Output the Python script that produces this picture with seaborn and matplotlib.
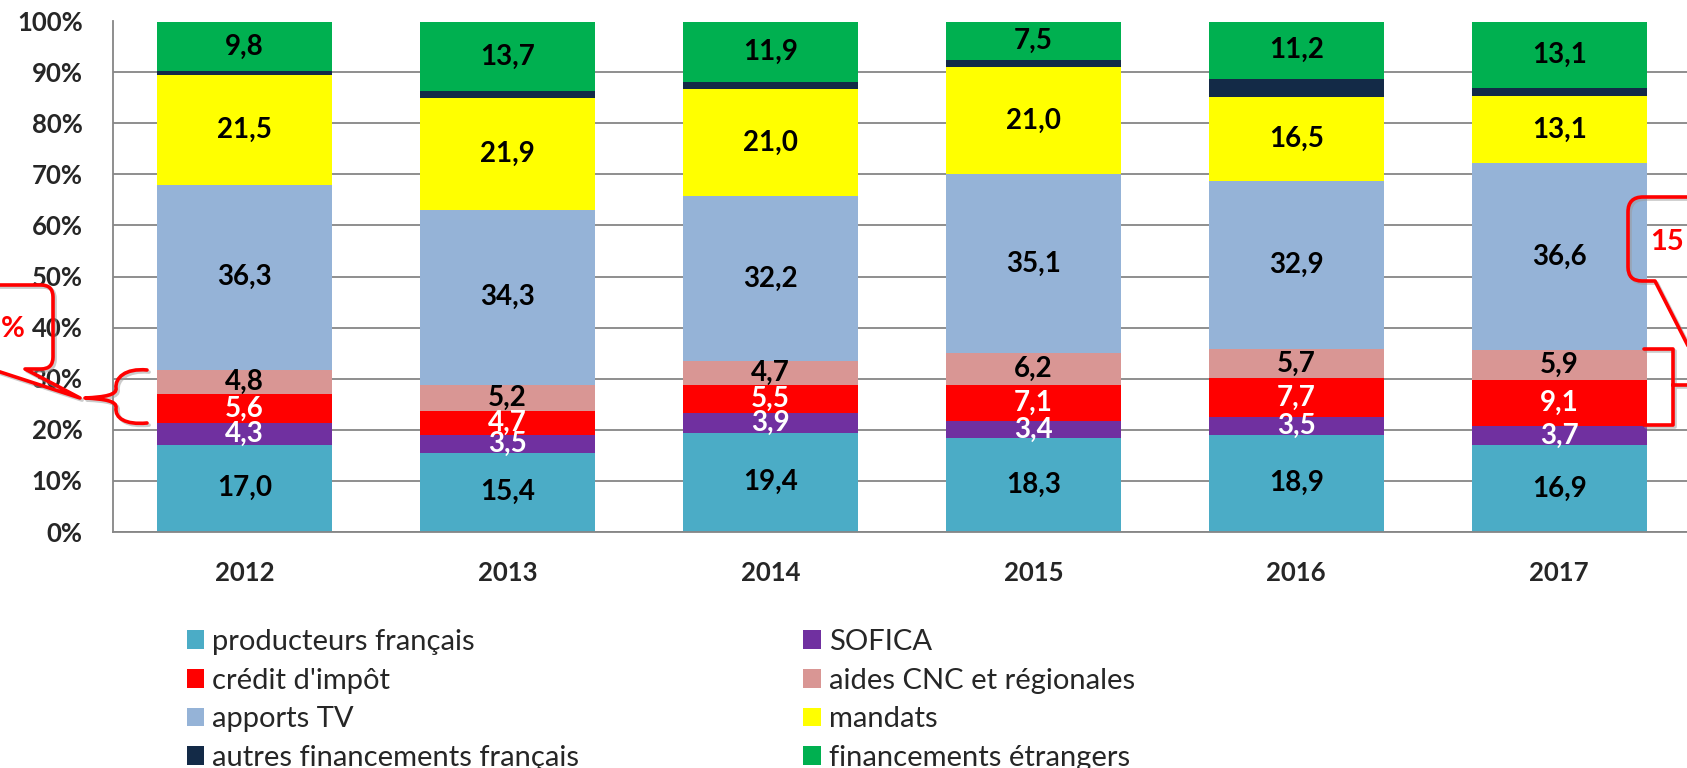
import numpy as np
import pandas as pd
import matplotlib
matplotlib.use("Agg")
import matplotlib.pyplot as plt
import seaborn as sns
from matplotlib.path import Path
from matplotlib.patches import PathPatch, Patch
import matplotlib.patheffects as pe

# ---------------- data ----------------
years = ["2012", "2013", "2014", "2015", "2016", "2017"]
producteurs = [17.0, 15.4, 19.4, 18.3, 18.9, 16.9]
sofica = [4.3, 3.5, 3.9, 3.4, 3.5, 3.7]
credit = [5.6, 4.7, 5.5, 7.1, 7.7, 9.1]
aides = [4.8, 5.2, 4.7, 6.2, 5.7, 5.9]
apports_tv = [36.3, 34.3, 32.2, 35.1, 32.9, 36.6]
mandats = [21.5, 21.9, 21.0, 21.0, 16.5, 13.1]
autres = [0.7, 1.3, 1.4, 1.4, 3.6, 1.6]
etrangers = [9.8, 13.7, 11.9, 7.5, 11.2, 13.1]

series_names = ["producteurs français", "SOFICA", "crédit d'impôt",
                "aides CNC et régionales", "apports TV", "mandats",
                "autres financements français", "financements étrangers"]
series_values = [producteurs, sofica, credit, aides, apports_tv, mandats,
                 autres, etrangers]
colors = ["#4BACC6", "#7030A0", "#FF0000", "#D99694", "#95B3D7", "#FFFF00",
          "#132A47", "#00B050"]
label_colors = ["black", "white", "white", "black", "black", "black", None, "black"]

yticks = [0, 10, 20, 30, 40, 50, 60, 70, 80, 90, 100]
ytick_labels = [f"{t}%" for t in yticks]

callout_left_text = "%"
callout_right_text = "15"

# ---------------- style ----------------
sns.set_style("white")
plt.rcParams["font.family"] = ["Lato", "DejaVu Sans"]

W, H = 1687, 768
fig = plt.figure(figsize=(W / 100, H / 100), dpi=100)
ax = fig.add_axes([113.2 / W, 1 - 531.5 / H, 1577.4 / W, 510 / H])


def fmt(v):
    return f"{v:.1f}".replace(".", ",")


bottom = np.zeros(len(years))
for name, vals, col, lc in zip(series_names, series_values, colors, label_colors):
    df = pd.DataFrame({"year": years, "value": vals})
    sns.barplot(data=df, x="year", y="value", order=years, color=col,
                saturation=1, width=0.665, errorbar=None, bottom=bottom.copy(),
                linewidth=0, ax=ax, zorder=2)
    if lc is not None:
        for i, v in enumerate(vals):
            ax.text(i, bottom[i] + v / 2, fmt(v), ha="center", va="center",
                    fontsize=20, fontweight="bold", color=lc, zorder=5)
    bottom += np.array(vals)

ax.set_xlim(-0.5, len(years) - 0.5)
ax.set_ylim(0, 100)
ax.set_yticks(yticks, ytick_labels)
ax.set_xlabel("")
ax.set_ylabel("")
ax.yaxis.grid(True, color="#868686", linewidth=1.3)
ax.xaxis.grid(False)
ax.set_axisbelow(True)
ax.tick_params(axis="y", length=0, pad=22, labelsize=18.5)
ax.tick_params(axis="x", length=0, pad=21, labelsize=18.5)
for lab in ax.get_xticklabels() + ax.get_yticklabels():
    lab.set_fontweight("bold")
for s in ["top", "right"]:
    ax.spines[s].set_visible(False)
for s in ["left", "bottom"]:
    ax.spines[s].set_color("#868686")
    ax.spines[s].set_linewidth(1.3)

# ---------------- legend ----------------
handles = [Patch(facecolor=c, edgecolor="none") for c in colors]
col1 = [0, 2, 4, 6]
col2 = [1, 3, 5, 7]
for idx, x0 in ((col1, 186.7), (col2, 803)):
    fig.legend([handles[i] for i in idx], [series_names[i] for i in idx],
               loc="upper left", bbox_to_anchor=(x0 / W, 1 - 629 / H),
               frameon=False, fontsize=21, handlelength=0.6, handleheight=0.6,
               handletextpad=0.28, labelspacing=0.43, borderpad=0, borderaxespad=0)


# ---------------- red callouts ----------------
def P(x, y):
    return (x / W, 1 - y / H)


red = "#FF0000"
shadow = [pe.SimpleLineShadow(offset=(1.5, -1.5), shadow_color="#999999", alpha=0.5),
          pe.Normal()]


def add_path(verts, codes):
    path = Path([P(x, y) for x, y in verts], codes)
    patch = PathPatch(path, facecolor="none", edgecolor=red, linewidth=2.6,
                      transform=fig.transFigure, clip_on=False,
                      capstyle="round", joinstyle="round", zorder=10)
    patch.set_path_effects(shadow)
    fig.add_artist(patch)


M, L, C3, C4 = Path.MOVETO, Path.LINETO, Path.CURVE3, Path.CURVE4

# left callout box with pointer
add_path([(-30, 285), (41, 285), (53, 285), (53, 297), (53, 357), (53, 369),
          (41, 369), (25, 369), (80, 398), (-9, 369), (-30, 369)],
         [M, L, C3, C3, L, C3, C3, L, L, L, L])
# left curly brace
add_path([(147, 370), (125, 368), (115, 378), (116, 388),
          (117, 395), (105, 397), (85, 398),
          (105, 399), (117, 401), (116, 408),
          (115, 418), (125, 425), (147, 423)],
         [M, C4, C4, C4, C4, C4, C4, C4, C4, C4, C4, C4, C4])
# right callout box with pointer
add_path([(1720, 197), (1643, 197), (1628, 197), (1628, 212), (1628, 267),
          (1628, 281), (1642, 281), (1655, 281), (1708, 385), (1690, 281),
          (1720, 281)],
         [M, L, C3, C3, L, C3, C3, L, L, L, L])
# right bracket
add_path([(1644, 349), (1673, 349), (1673, 425), (1644, 425),
          (1673, 385), (1700, 385)],
         [M, L, L, L, M, L])

fig.text(*P(25, 329), callout_left_text, ha="right", va="center", color=red,
         fontsize=21, fontweight="bold")
fig.text(*P(1684, 242), callout_right_text, ha="right", va="center", color=red,
         fontsize=21, fontweight="bold")

fig.savefig("out.png", dpi=100)
